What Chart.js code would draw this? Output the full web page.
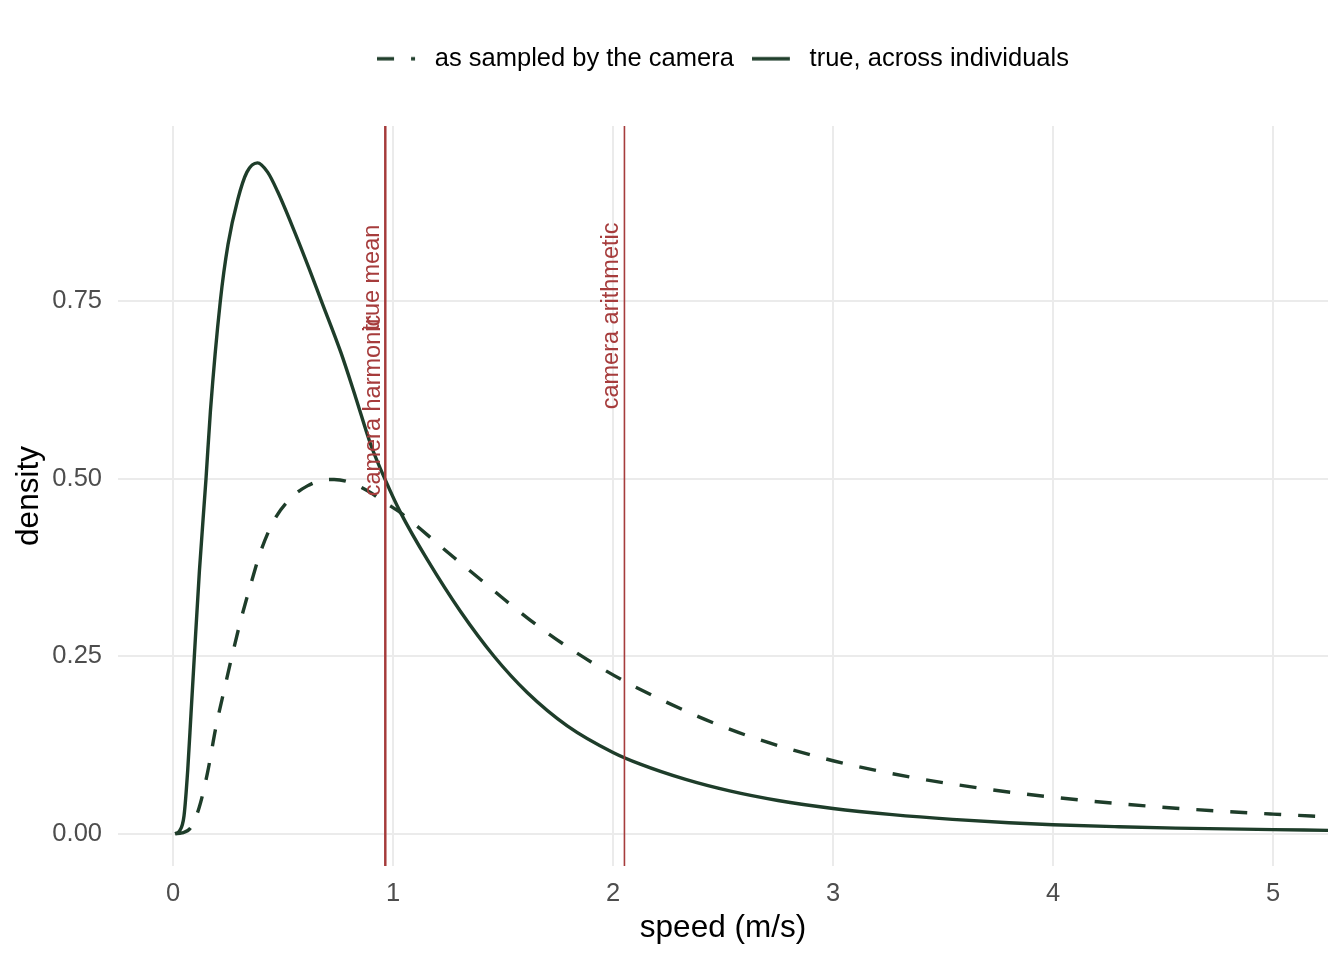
<!DOCTYPE html>
<html lang="en">
<head>
  <meta charset="UTF-8" />
  <title>Camera-sampled vs true speed density</title>
  <script src="https://cdn.jsdelivr.net/npm/chart.js"></script>
  <style>
    body { margin: 0; background: #ffffff; }
    #speedChart { display: block; }
  </style>
</head>
<body>
  <canvas id="speedChart" width="1344" height="960"></canvas>

  <script>
    // values
    const speedSampled = [0.01, 0.04, 0.082, 0.119, 0.157, 0.195, 0.233, 0.271, 0.309, 0.354, 0.399, 0.46, 0.536, 0.611, 0.68, 0.732, 0.793, 0.884, 0.967, 1.035, 1.156, 1.277, 1.406, 1.534, 1.67, 1.799, 1.943, 2.094, 2.388, 2.631, 3.0, 3.341, 3.7, 4.0, 4.3, 4.558, 5.0, 5.25];
    const densSampled = [0.000, 0.001, 0.009, 0.037, 0.086, 0.150, 0.203, 0.254, 0.302, 0.352, 0.398, 0.442, 0.473, 0.490, 0.498, 0.499, 0.496, 0.483, 0.466, 0.452, 0.421, 0.389, 0.356, 0.323, 0.290, 0.262, 0.234, 0.208, 0.165, 0.136, 0.1028, 0.0804, 0.0628, 0.0514, 0.0423, 0.0359, 0.0276, 0.0238];

    const speedTrue = [0.01, 0.03, 0.05, 0.067, 0.082, 0.097, 0.12, 0.15, 0.17, 0.215, 0.25, 0.294, 0.336, 0.384, 0.43, 0.475, 0.55, 0.62, 0.675, 0.763, 0.83, 0.899, 0.967, 1.035, 1.156, 1.307, 1.459, 1.61, 1.792, 2.0, 2.124, 2.33, 2.53, 2.75, 3.0, 3.27, 3.543, 3.8, 4.0, 4.3, 4.558, 5.0, 5.25];
    const densTrue = [0.000, 0.004, 0.025, 0.090, 0.170, 0.250, 0.370, 0.500, 0.595, 0.750, 0.830, 0.893, 0.932, 0.945, 0.932, 0.905, 0.850, 0.795, 0.750, 0.678, 0.615, 0.548, 0.497, 0.452, 0.386, 0.313, 0.250, 0.199, 0.152, 0.1145, 0.098, 0.0765, 0.0603, 0.0468, 0.0355, 0.0268, 0.0202, 0.0155, 0.0127, 0.0098, 0.0078, 0.0058, 0.0047];

    const seriesNames = ["as sampled by the camera", "true, across individuals"];
    const seriesDash = [[17, 17], []];

    // reference lines and their labels
    const refNames = ["true mean", "camera harmonic", "camera arithmetic"];
    const refSpeeds = [0.963, 0.967, 2.052];
    const refLabelTops = [0.858, 0.731, 0.861];

    const xTicks = [0, 1, 2, 3, 4, 5];
    const xTickLabels = ["0", "1", "2", "3", "4", "5"];
    const yTicks = [0, 0.25, 0.5, 0.75];
    const yTickLabels = ["0.00", "0.25", "0.50", "0.75"];
    const xRange = [-0.25, 5.25];
    const yRange = [-0.0455, 0.997];

    const lineColour = "#1e3d2a";
    const refColour = "#a63c3c";
    const curveWidth = 3.4;
    const fontFamily = '"Liberation Sans", Arial, Helvetica, sans-serif';

    Chart.defaults.font.family = fontFamily;

    const toPoints = (xs, ys) => xs.map((x, i) => ({ x: x, y: ys[i] }));

    // small canvas used as the legend key so the dash shows
    function legendKey(dash) {
      const c = document.createElement("canvas");
      c.width = 45;
      c.height = 8;
      const g = c.getContext("2d");
      g.strokeStyle = lineColour;
      g.lineWidth = curveWidth;
      g.setLineDash(dash);
      g.beginPath();
      g.moveTo(0, 4);
      g.lineTo(38, 4);
      g.stroke();
      return c;
    }

    // extra room between legend and panel
    const legendSpacer = {
      id: "legendSpacer",
      beforeInit(chart) {
        const origFit = chart.legend.fit;
        chart.legend.fit = function () {
          origFit.bind(chart.legend)();
          this.height += 44.5;
        };
      }
    };

    // rotated text next to the reference lines
    const refLabelPlugin = {
      id: "refLabels",
      afterDatasetsDraw(chart) {
        const { ctx, scales } = chart;
        ctx.save();
        ctx.font = "23.5px " + fontFamily;
        ctx.fillStyle = refColour;
        ctx.textAlign = "right";
        ctx.textBaseline = "alphabetic";
        refNames.forEach((name, i) => {
          ctx.save();
          ctx.translate(scales.x.getPixelForValue(refSpeeds[i]) - 6, scales.y.getPixelForValue(refLabelTops[i]));
          ctx.rotate(-Math.PI / 2);
          ctx.fillText(name, 0, 0);
          ctx.restore();
        });
        ctx.restore();
      }
    };

    const datasets = [
      {
        label: seriesNames[0],
        data: toPoints(speedSampled, densSampled),
        borderColor: lineColour,
        backgroundColor: lineColour,
        borderWidth: curveWidth,
        borderDash: seriesDash[0],
        pointRadius: 0,
        pointStyle: legendKey(seriesDash[0]),
        cubicInterpolationMode: "monotone",
        order: 1
      },
      {
        label: seriesNames[1],
        data: toPoints(speedTrue, densTrue),
        borderColor: lineColour,
        backgroundColor: lineColour,
        borderWidth: curveWidth,
        borderDash: seriesDash[1],
        pointRadius: 0,
        pointStyle: legendKey(seriesDash[1]),
        cubicInterpolationMode: "monotone",
        order: 2
      }
    ];

    refNames.forEach((name, i) => {
      datasets.push({
        label: name,
        isRef: true,
        data: [{ x: refSpeeds[i], y: yRange[0] }, { x: refSpeeds[i], y: yRange[1] }],
        borderColor: refColour,
        borderWidth: 1.6,
        pointRadius: 0,
        order: 0
      });
    });

    new Chart(document.getElementById("speedChart"), {
      type: "line",
      data: { datasets: datasets },
      options: {
        responsive: false,
        animation: false,
        devicePixelRatio: 1,
        layout: { padding: { top: 28, right: 16, bottom: 0, left: 0 } },
        plugins: {
          tooltip: { enabled: false },
          legend: {
            position: "top",
            fullSize: false,
            labels: {
              usePointStyle: true,
              pointStyleWidth: 45,
              padding: 18,
              color: "#000000",
              font: { size: 25.5 },
              filter: (item, data) => !data.datasets[item.datasetIndex].isRef
            }
          }
        },
        scales: {
          x: {
            type: "linear",
            min: xRange[0],
            max: xRange[1],
            afterBuildTicks: (scale) => { scale.ticks = xTicks.map(v => ({ value: v })); },
            afterFit: (scale) => { scale.height = 94; },
            grid: { color: "#ebebeb", lineWidth: 2, drawTicks: false },
            border: { display: false },
            ticks: {
              padding: 13,
              color: "#4d4d4d",
              font: { size: 25.5 },
              maxRotation: 0,
              callback: (value, index) => xTickLabels[index]
            },
            title: {
              display: true,
              text: "speed (m/s)",
              color: "#000000",
              font: { size: 31.5 },
              padding: { top: 0, bottom: 13 }
            }
          },
          y: {
            type: "linear",
            min: yRange[0],
            max: yRange[1],
            afterBuildTicks: (scale) => { scale.ticks = yTicks.map(v => ({ value: v })); },
            afterFit: (scale) => { scale.width = 118; },
            grid: { color: "#ebebeb", lineWidth: 2, drawTicks: false },
            border: { display: false },
            ticks: {
              padding: 16,
              color: "#4d4d4d",
              font: { size: 25.5 },
              callback: (value, index) => yTickLabels[index]
            },
            title: {
              display: true,
              text: "density",
              color: "#000000",
              font: { size: 31.5 },
              padding: { top: 10, bottom: 0 }
            }
          }
        }
      },
      plugins: [legendSpacer, refLabelPlugin]
    });
  </script>
</body>
</html>
